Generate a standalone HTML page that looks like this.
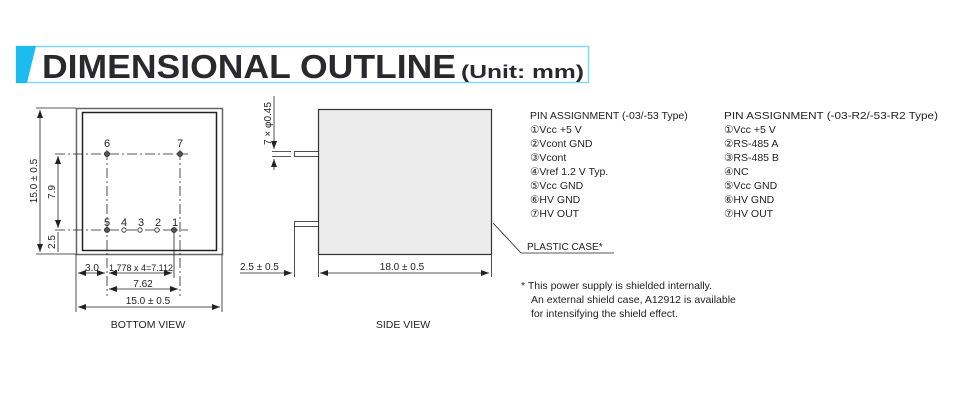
<!DOCTYPE html>
<html><head><meta charset="utf-8"><style>
html,body{margin:0;padding:0;background:#fff;}
svg{display:block;font-family:"Liberation Sans",Arial,sans-serif;}
</style></head><body>
<svg width="959" height="400" viewBox="0 0 959 400" xmlns="http://www.w3.org/2000/svg">
<defs>
<marker id="a" markerWidth="8" markerHeight="6" refX="8" refY="3" orient="auto-start-reverse" markerUnits="userSpaceOnUse"><path d="M0,0 L8,3 L0,6 z" fill="#222"/></marker>
</defs>
<rect x="16.5" y="46.5" width="572" height="36" fill="#fff" stroke="#7fd8f5" stroke-width="1.5"/>
<polygon points="16,46 36,46 27,83 16,83" fill="#1cbdee"/>
<text x="42" y="78" font-size="33" font-weight="bold" fill="#2a2a2e" textLength="414" lengthAdjust="spacingAndGlyphs">DIMENSIONAL OUTLINE</text>
<text x="461" y="78" font-size="18" font-weight="bold" fill="#2a2a2e" textLength="123" lengthAdjust="spacingAndGlyphs">(Unit: mm)</text>

<g stroke="#222" fill="none" stroke-width="1">
<rect x="76.5" y="108.5" width="146" height="146" stroke="#666" stroke-width="1.5"/>
<rect x="82.5" y="112.5" width="134" height="138" stroke-width="1.5"/>
<line x1="55" y1="154" x2="188" y2="154" stroke-dasharray="10,3,2,3" stroke-width="0.8"/>
<line x1="55" y1="230" x2="188" y2="230" stroke-dasharray="10,3,2,3" stroke-width="0.8"/>
<line x1="107" y1="150" x2="107" y2="296" stroke-dasharray="10,3,2,3" stroke-width="0.8"/>
<line x1="180" y1="150" x2="180" y2="296" stroke-dasharray="10,3,2,3" stroke-width="0.8"/>
<line x1="174" y1="230" x2="174" y2="278" stroke-width="0.8"/>
<line x1="36" y1="108" x2="76" y2="108" stroke-width="0.8"/>
<line x1="36" y1="254" x2="76" y2="254" stroke-width="0.8"/>
<line x1="40" y1="110" x2="40" y2="252" marker-start="url(#a)" marker-end="url(#a)" stroke-width="0.8"/>
<line x1="58" y1="156" x2="58" y2="228" marker-start="url(#a)" marker-end="url(#a)" stroke-width="0.8"/>
<line x1="58" y1="232" x2="58" y2="252" stroke-width="0.8"/>
<line x1="76" y1="254" x2="76" y2="312" stroke-width="0.8"/>
<line x1="222" y1="254" x2="222" y2="312" stroke-width="0.8"/>
<line x1="78" y1="273" x2="105" y2="273" marker-start="url(#a)" marker-end="url(#a)" stroke-width="0.8"/>
<line x1="109" y1="273" x2="172" y2="273" marker-start="url(#a)" marker-end="url(#a)" stroke-width="0.8"/>
<line x1="109" y1="289" x2="178" y2="289" marker-start="url(#a)" marker-end="url(#a)" stroke-width="0.8"/>
<line x1="78" y1="307" x2="220" y2="307" marker-start="url(#a)" marker-end="url(#a)" stroke-width="0.8"/>
</g>
<g fill="#555" stroke="#222" stroke-width="0.8">
<circle cx="107" cy="154" r="2.5"/><circle cx="180" cy="154" r="2.5"/>
<circle cx="107" cy="230" r="2.5"/><circle cx="124" cy="230" r="2.2" fill="#fff"/><circle cx="140" cy="230" r="2.2" fill="#fff"/><circle cx="157" cy="230" r="2.2" fill="#fff"/><circle cx="174" cy="230" r="2.5"/>
</g>
<g font-size="11" fill="#222" text-anchor="middle">
<text x="107" y="147">6</text><text x="180" y="147">7</text>
<text x="107" y="226">5</text><text x="124" y="226">4</text><text x="141" y="226">3</text><text x="158" y="226">2</text><text x="175" y="226">1</text>
<text x="92" y="271" font-size="10">3.0</text>
<text x="141" y="271" font-size="9" textLength="64" lengthAdjust="spacingAndGlyphs">1.778 x 4=7.112</text>
<text x="143" y="287" font-size="10">7.62</text>
<text x="148" y="304" font-size="10">15.0 ± 0.5</text>
<text x="148" y="328" font-size="10.5">BOTTOM VIEW</text>
<text transform="translate(37,181) rotate(-90)" font-size="10">15.0 ± 0.5</text>
<text transform="translate(55,192) rotate(-90)" font-size="10">7.9</text>
<text transform="translate(55,242) rotate(-90)" font-size="10">2.5</text>
</g>

<rect x="318.5" y="109.5" width="173" height="145" fill="#ececec" stroke="#333" stroke-width="1.2"/>
<g stroke="#222" fill="none" stroke-width="0.8">
<rect x="294.5" y="151.5" width="24" height="5" fill="#fff"/>
<line x1="272" y1="151.5" x2="291" y2="151.5"/><line x1="272" y1="156.5" x2="291" y2="156.5"/>
<rect x="294.5" y="221.5" width="24" height="5" fill="#fff"/>
<line x1="294.5" y1="226" x2="294.5" y2="277"/>
<line x1="318.5" y1="255" x2="318.5" y2="277"/>
<line x1="491.5" y1="255" x2="491.5" y2="277"/>
<line x1="240" y1="273" x2="292" y2="273" marker-end="url(#a)"/>
<line x1="320" y1="273" x2="489" y2="273" marker-start="url(#a)" marker-end="url(#a)"/>
<line x1="274" y1="96" x2="274" y2="149" marker-end="url(#a)"/>
<line x1="274" y1="170" x2="274" y2="159" marker-end="url(#a)"/>
<line x1="493" y1="223" x2="521" y2="253"/>
<line x1="521" y1="253" x2="614" y2="253"/>
</g>
<g font-size="10" fill="#222">
<text x="240" y="270">2.5 ± 0.5</text>
<text x="402" y="270" text-anchor="middle">18.0 ± 0.5</text>
<text x="403" y="328" text-anchor="middle" font-size="10.5">SIDE VIEW</text>
<text transform="translate(271,145) rotate(-90)">7 × φ0.45</text>
<text x="527" y="250">PLASTIC CASE*</text>
</g>

<g font-size="10.5" fill="#222">
<text x="530" y="119">PIN ASSIGNMENT (-03/-53 Type)</text>
<text x="530" y="133">①Vcc +5 V</text>
<text x="530" y="147">②Vcont GND</text>
<text x="530" y="161">③Vcont</text>
<text x="530" y="175">④Vref 1.2 V Typ.</text>
<text x="530" y="189">⑤Vcc GND</text>
<text x="530" y="203">⑥HV GND</text>
<text x="530" y="217">⑦HV OUT</text>
<text x="724" y="119" textLength="214" lengthAdjust="spacingAndGlyphs">PIN ASSIGNMENT (-03-R2/-53-R2 Type)</text>
<text x="724" y="133">①Vcc +5 V</text>
<text x="724" y="147">②RS-485 A</text>
<text x="724" y="161">③RS-485 B</text>
<text x="724" y="175">④NC</text>
<text x="724" y="189">⑤Vcc GND</text>
<text x="724" y="203">⑥HV GND</text>
<text x="724" y="217">⑦HV OUT</text>
<text x="521" y="289">* This power supply is shielded internally.</text>
<text x="531" y="303">An external shield case, A12912 is available</text>
<text x="531" y="317">for intensifying the shield effect.</text>
</g>
</svg>
</body></html>
